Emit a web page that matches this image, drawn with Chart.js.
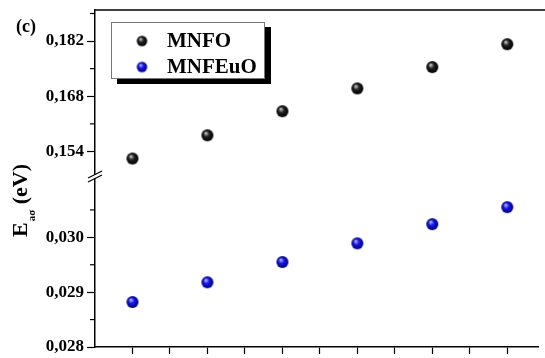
<!DOCTYPE html>
<html>
<head>
<meta charset="utf-8">
<script src="https://cdn.jsdelivr.net/npm/chart.js@4/dist/chart.umd.min.js"></script>
<style>
  html, body { margin: 0; padding: 0; background: #fff; }
  #wrap { width: 545px; height: 358px; }
</style>
</head>
<body>
<div id="wrap"><canvas id="c" width="545" height="358"></canvas></div>
<script>
// Sample positions along the x axis
const SAMPLE_INDEX = [1, 2, 3, 4, 5, 6];
// Activation energies (eV)
const MNFO = [0.1522, 0.1581, 0.1642, 0.1700, 0.1754, 0.1812];
const MNFEUO = [0.02882, 0.02918, 0.02955, 0.02989, 0.03024, 0.03055];
// Tick values for the two halves of the broken y axis, and the x axis
const TOP_MAJOR = [0.154, 0.168, 0.182];
const TOP_MINOR = [0.161, 0.175, 0.189];
const BOT_MAJOR = [0.028, 0.029, 0.030];
const BOT_MINOR = [0.0285, 0.0295, 0.0305];
const X_TICKS = [1, 1.5, 2, 2.5, 3, 3.5, 4, 4.5, 5, 5.5, 6];
const SERIES_NAMES = ['MNFO', 'MNFEuO'];

const SERIF = "'Liberation Serif', 'Times New Roman', serif";

// Shaded sphere sprite used as the point marker
function sphere(r, hi, mid, dark) {
  const s = Math.ceil(2 * r + 2);
  const c = document.createElement('canvas');
  c.width = c.height = s;
  const g = c.getContext('2d');
  const cx = s / 2, cy = s / 2;
  const grad = g.createRadialGradient(cx - r * 0.3, cy - r * 0.4, r * 0.05, cx, cy, r);
  grad.addColorStop(0, hi);
  grad.addColorStop(0.45, mid);
  grad.addColorStop(1, dark);
  g.fillStyle = grad;
  g.beginPath();
  g.arc(cx, cy, r, 0, Math.PI * 2);
  g.fill();
  return c;
}
const BLACK_BALL = sphere(6, '#d0d0d0', '#202020', '#000000');
const BLUE_BALL = sphere(6, '#b8bcff', '#1414e6', '#00007a');
const BLACK_BALL_S = sphere(5.2, '#d0d0d0', '#202020', '#000000');
const BLUE_BALL_S = sphere(5.2, '#b8bcff', '#1414e6', '#00007a');

const fmt = v => v.toFixed(3).replace('.', ',');

// Minor ticks, axis break mark, frame line, legend and labels
const decor = {
  id: 'decor',
  afterDraw(chart) {
    const ctx = chart.ctx;
    const area = chart.chartArea;
    const yT = chart.scales.yTop, yB = chart.scales.yBot;
    ctx.save();
    ctx.strokeStyle = '#000';
    ctx.fillStyle = '#000';

    // top frame line
    ctx.lineWidth = 1.5;
    ctx.beginPath();
    ctx.moveTo(area.left, area.top);
    ctx.lineTo(chart.width, area.top);
    ctx.stroke();

    // minor y ticks
    ctx.lineWidth = 1.2;
    const minor = (scale, vals) => vals.forEach(v => {
      const p = scale.getPixelForValue(v);
      if (p < scale.top - 0.5 || p > scale.bottom + 0.5) return;
      ctx.beginPath();
      ctx.moveTo(area.left - 5, p);
      ctx.lineTo(area.left, p);
      ctx.stroke();
    });
    minor(yT, TOP_MINOR);
    minor(yB, BOT_MINOR);

    // axis break "//"
    const by = yT.bottom;
    const ax = area.left;
    ctx.fillStyle = '#fff';
    ctx.beginPath();
    ctx.moveTo(ax - 6, by + 3);
    ctx.lineTo(ax + 6, by - 3);
    ctx.lineTo(ax + 6, by - 7);
    ctx.lineTo(ax - 6, by - 1);
    ctx.closePath();
    ctx.fill();
    ctx.lineWidth = 1.2;
    [0, -4].forEach(d => {
      ctx.beginPath();
      ctx.moveTo(ax - 7, by + 3.5 + d);
      ctx.lineTo(ax + 7, by - 3.5 + d);
      ctx.stroke();
    });

    // panel tag
    ctx.fillStyle = '#000';
    ctx.font = 'bold 18px ' + SERIF;
    ctx.textBaseline = 'alphabetic';
    ctx.textAlign = 'left';
    ctx.fillText('(c)', 16, 32);

    // y axis title: E with subscript aσ, then (eV)
    ctx.save();
    ctx.translate(27, 237);
    ctx.rotate(-Math.PI / 2);
    ctx.font = 'bold 22px ' + SERIF;
    ctx.fillText('E', 0, 0);
    let x = ctx.measureText('E').width + 1;
    ctx.font = 'bold 11px ' + SERIF;
    ctx.fillText('aσ', x, 8);
    x += ctx.measureText('aσ').width;
    ctx.font = 'bold 22px ' + SERIF;
    ctx.fillText(' (eV)', x, 0);
    ctx.restore();

    // legend box with drop shadow
    const lx = 111, ly = 22, lw = 154, lh = 57;
    ctx.fillStyle = '#000';
    ctx.fillRect(lx + 6, ly + 5, lw, lh);
    ctx.fillStyle = '#fff';
    ctx.fillRect(lx, ly, lw, lh);
    ctx.strokeStyle = '#777';
    ctx.lineWidth = 1;
    ctx.strokeRect(lx + 0.5, ly + 0.5, lw - 1, lh - 1);
    const icons = [BLACK_BALL_S, BLUE_BALL_S];
    const rows = [41, 67];
    ctx.fillStyle = '#000';
    ctx.font = 'bold 21px ' + SERIF;
    ctx.textBaseline = 'middle';
    chart.data.datasets.forEach((ds, i) => {
      const ic = icons[i];
      ctx.drawImage(ic, 142 - ic.width / 2, rows[i] - ic.height / 2);
      ctx.fillText(ds.label, 167, rows[i] + 1);
    });
    ctx.restore();
  }
};

const yCommon = {
  type: 'linear',
  position: 'left',
  stack: 'left',
  stackWeight: 1,
  afterFit: s => { s.width = 95; s.paddingTop = 0; s.paddingBottom = 0; },
  ticks: {
    color: '#000',
    padding: 3,
    font: { family: SERIF, size: 17, weight: 'bold' },
    callback: v => fmt(v)
  },
  grid: { drawOnChartArea: false, tickLength: 8, color: '#000', tickWidth: 1.2 },
  border: { color: '#000', width: 1.5 }
};

new Chart(document.getElementById('c'), {
  type: 'scatter',
  data: {
    datasets: [
      {
        label: SERIES_NAMES[0],
        data: SAMPLE_INDEX.map((x, i) => ({ x, y: MNFO[i] })),
        yAxisID: 'yTop',
        pointStyle: BLACK_BALL,
        pointRadius: 6
      },
      {
        label: SERIES_NAMES[1],
        data: SAMPLE_INDEX.map((x, i) => ({ x, y: MNFEUO[i] })),
        yAxisID: 'yBot',
        pointStyle: BLUE_BALL,
        pointRadius: 6
      }
    ]
  },
  options: {
    responsive: false,
    animation: false,
    devicePixelRatio: 1,
    layout: { padding: { left: 0, right: 0, top: 10, bottom: 4 } },
    plugins: { legend: { display: false }, tooltip: { enabled: false } },
    scales: {
      x: {
        type: 'linear',
        min: 0.5,
        max: 6.41,
        afterBuildTicks: s => { s.ticks = X_TICKS.map(v => ({ value: v })); },
        afterFit: s => { s.paddingLeft = 0; s.paddingRight = 0; },
        ticks: { display: false },
        grid: { drawOnChartArea: false, tickLength: 7, color: '#000', tickWidth: 1.2 },
        border: { color: '#000', width: 1.5 }
      },
      yBot: Object.assign({}, yCommon, {
        min: 0.028,
        max: 0.031073,
        afterBuildTicks: s => { s.ticks = BOT_MAJOR.map(v => ({ value: v })); }
      }),
      yTop: Object.assign({}, yCommon, {
        min: 0.14713,
        max: 0.18989,
        afterBuildTicks: s => { s.ticks = TOP_MAJOR.map(v => ({ value: v })); }
      })
    }
  },
  plugins: [decor]
});
</script>
</body>
</html>
